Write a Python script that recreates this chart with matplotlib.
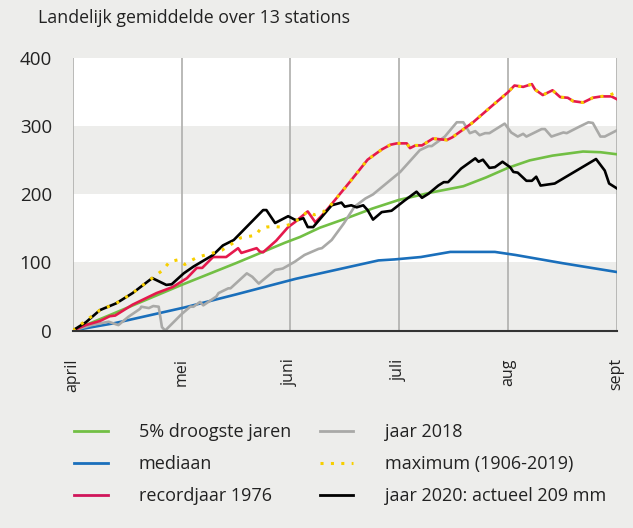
import matplotlib.pyplot as plt
from matplotlib.lines import Line2D

plt.rcParams['font.family'] = ['Open Sans', 'DejaVu Sans']

## x-waarden: maanden vanaf 1 april (0 = april, 5 = sept)
months = ["april", "mei", "juni", "juli", "aug", "sept"]
yticks = [0, 100, 200, 300, 400]

droog_x = [0, 0.39, 1.0, 1.5, 1.95, 2.09, 2.27, 2.5, 2.75, 3.0, 3.3, 3.59, 3.8, 4.0, 4.2, 4.41, 4.69, 4.85, 5.0]
droog_y = [0, 26, 67, 99, 129, 137.5, 151, 164, 179, 192, 203, 212, 225, 239, 250, 257, 263, 262, 259]

median_x = [0, 0.39, 1.03, 1.5, 2.05, 2.5, 2.81, 2.96, 3.2, 3.47, 3.88, 4.07, 4.5, 5.0]
median_y = [0, 11, 34, 53, 76, 92, 103, 104.5, 108, 115.5, 115.5, 111, 99, 86]

y1976_x = [0, 0.12, 0.25, 0.34, 0.39, 0.55, 0.77, 0.92, 1.05, 1.14, 1.19, 1.29, 1.41, 1.52, 1.55,
           1.69, 1.72, 1.75, 1.87, 1.98, 2.04, 2.16, 2.23, 2.29, 2.36, 2.55, 2.71, 2.84, 2.92, 2.98,
           3.07, 3.10, 3.15, 3.21, 3.31, 3.44, 3.49, 3.68, 3.86, 4.0, 4.06, 4.14, 4.22, 4.25, 4.32,
           4.41, 4.48, 4.55, 4.60, 4.69, 4.78, 4.86, 4.95, 5.0]
y1976_y = [0, 8, 14, 21, 22, 38, 55, 64, 77, 92, 92, 108, 108, 121, 114,
           121, 116, 115, 132, 152, 159, 175, 159, 169, 182, 219, 251, 266, 273, 275,
           275, 268, 272, 272, 282, 280, 284, 306, 331, 350, 360, 358, 362, 354, 346,
           353, 343, 342, 337, 335, 342, 344, 344, 340]

y2018_x = [0, 0.175, 0.33, 0.40, 0.42, 0.51, 0.62, 0.63, 0.70, 0.74, 0.79, 0.82, 0.85, 1.0, 1.08,
           1.11, 1.17, 1.20, 1.32, 1.34, 1.43, 1.45, 1.60, 1.65, 1.71, 1.86, 1.93, 2.04, 2.13, 2.26,
           2.29, 2.38, 2.49, 2.59, 2.69, 2.76, 3.01, 3.19, 3.27, 3.30, 3.42, 3.53, 3.59, 3.65, 3.70,
           3.74, 3.79, 3.83, 3.97, 4.03, 4.09, 4.14, 4.17, 4.31, 4.34, 4.40, 4.51, 4.54, 4.65, 4.74,
           4.78, 4.85, 4.89, 5.0]
y2018_y = [0, 8, 13, 9, 8, 20, 32, 35, 33, 36, 35, 5, 0, 24, 35,
           35, 42, 37, 50, 55, 62, 62, 84, 79, 69, 89, 91, 101, 111, 120,
           121, 133, 157, 182, 194, 200, 233, 265, 271, 271, 285, 306, 306, 290, 293,
           287, 290, 290, 304, 291, 285, 289, 285, 296, 296, 285, 291, 290, 299, 306,
           305, 285, 285, 294]

maximum_x = [0, 0.25, 0.40, 0.55, 0.73, 0.83, 0.89, 0.97, 1.03, 1.09, 1.15, 1.22, 1.29, 1.37, 1.45,
             1.54, 1.61, 1.68, 1.73, 1.78, 1.84, 1.91, 1.98, 2.04, 2.16, 2.22, 2.30, 2.36, 2.55,
             2.71, 2.84, 2.92, 2.98, 3.07, 3.10, 3.15, 3.21, 3.31, 3.44, 3.49, 3.68, 3.86, 4.0,
             4.06, 4.14, 4.22, 4.25, 4.32, 4.41, 4.48, 4.55, 4.60, 4.69, 4.78, 4.86, 4.92, 5.0]
maximum_y = [0, 30, 40, 55, 77, 89, 101, 104, 97, 103, 108, 111, 114, 118, 126,
             136, 138, 140, 150, 152, 153, 152, 155, 159, 175, 170, 174, 182, 219,
             251, 266, 273, 275, 275, 268, 272, 272, 282, 280, 284, 306, 331, 350,
             360, 358, 362, 354, 346, 353, 343, 342, 337, 335, 342, 344, 345, 350]

y2020_x = [0, 0.12, 0.25, 0.40, 0.55, 0.73, 0.77, 0.86, 0.91, 1.02, 1.11, 1.29, 1.38, 1.48, 1.75,
           1.78, 1.86, 1.98, 2.04, 2.06, 2.12, 2.16, 2.21, 2.38, 2.47, 2.50, 2.56, 2.61, 2.67, 2.71,
           2.76, 2.84, 2.93, 3.05, 3.16, 3.21, 3.27, 3.36, 3.41, 3.45, 3.57, 3.70, 3.73, 3.77, 3.83,
           3.88, 3.95, 4.02, 4.05, 4.09, 4.17, 4.22, 4.26, 4.30, 4.43, 4.81, 4.89, 4.93, 5.0]
y2020_y = [0, 12, 30, 40, 55, 77, 74, 67, 68, 84, 94, 111, 125, 133, 177,
           177, 158, 168, 163, 162, 165, 152, 152, 184, 188, 182, 184, 181, 184, 177,
           163, 174, 176, 191, 204, 195, 201, 213, 218, 218, 238, 253, 248, 251, 239,
           240, 248, 240, 233, 232, 220, 220, 226, 213, 216, 252, 235, 216, 209]

bg = '#ededeb'
c_green = '#72bf44'
c_blue = '#1a6fbb'
c_red = '#e5194d'
c_gray = '#a9a9a7'
c_yellow = '#f7cf00'
c_text = '#222222'

fig = plt.figure(figsize=(6.33, 5.28), dpi=100, facecolor=bg)
ax = fig.add_axes([0.1149, 0.374, 0.8594, 0.5156])
ax.set_facecolor('white')

for lo in (0, 200):
    ax.axhspan(lo, lo + 100, color=bg, lw=0, zorder=0)
for m in range(6):
    ax.axvline(m, color='#b4b4b2', lw=1.3, zorder=1)

ax.plot(droog_x, droog_y, color=c_green, lw=1.9, zorder=3)
ax.plot(median_x, median_y, color=c_blue, lw=1.9, zorder=3)
ax.plot(y2018_x, y2018_y, color=c_gray, lw=1.9, zorder=3)
ax.plot(y1976_x, y1976_y, color=c_red, lw=1.9, zorder=4)
ax.plot(y2020_x, y2020_y, color='black', lw=1.9, zorder=5)
ax.plot(maximum_x, maximum_y, color=c_yellow, lw=2.2, ls=(0, (1, 2.4)), zorder=6)

ax.set_xlim(0, 5)
ax.set_ylim(0, 400)
ax.set_xticks(range(6))
ax.set_xticklabels(months, rotation=90, va='top', ha='center', fontsize=11.5)
ax.set_yticks(yticks)
ax.set_yticklabels([str(v) for v in yticks], fontsize=13.5)
ax.tick_params(axis='both', length=0, colors=c_text)
ax.tick_params(axis='x', pad=20)
ax.tick_params(axis='y', pad=15)
for s in ('top', 'left', 'right'):
    ax.spines[s].set_visible(False)
ax.spines['bottom'].set_color('#333333')
ax.spines['bottom'].set_linewidth(1.5)
ax.spines['bottom'].set_zorder(7)

fig.text(38 / 633, 1 - 23 / 528, "Landelijk gemiddelde over 13 stations",
         fontsize=12.8, color=c_text, va='baseline', ha='left')

handles = [
    Line2D([], [], color=c_green, lw=2.0),
    Line2D([], [], color=c_blue, lw=2.0),
    Line2D([], [], color='#d0155a', lw=2.0),
    Line2D([], [], color=c_gray, lw=2.0),
    Line2D([], [], color=c_yellow, lw=2.2, ls=(0, (1, 2.4))),
    Line2D([], [], color='black', lw=2.0),
]
labels = ["5% droogste jaren", "mediaan", "recordjaar 1976",
          "jaar 2018", "maximum (1906-2019)", "jaar 2020: actueel 209 mm"]
leg = fig.legend(handles, labels, ncol=2, loc='upper left',
                 bbox_to_anchor=(58 / 633, 1 - 407 / 528), frameon=False,
                 fontsize=13, handlelength=1.85, handletextpad=1.73,
                 columnspacing=1.6, labelspacing=0.78)
for t in leg.get_texts():
    t.set_color(c_text)

fig.savefig('out.png', dpi=100, facecolor=bg)
